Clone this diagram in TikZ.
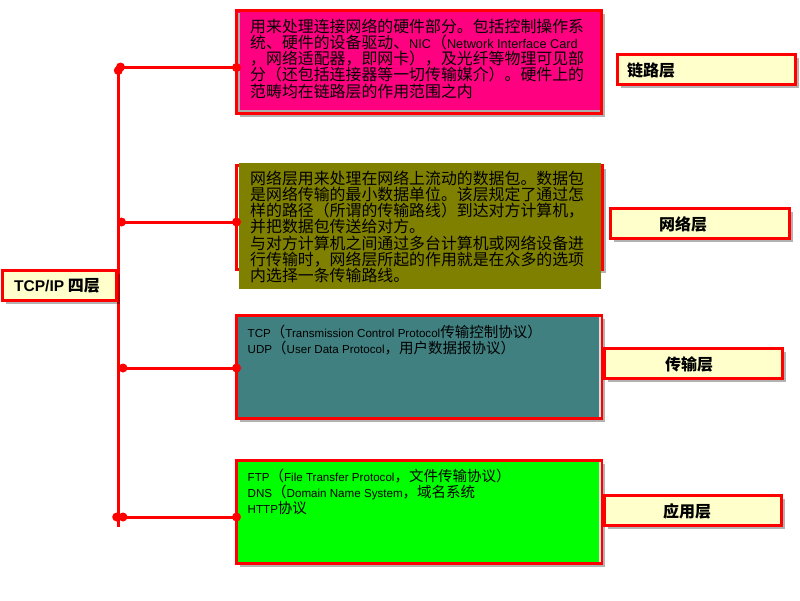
\documentclass[tikz,border=0pt]{standalone}
\usepackage{fontspec}
\setmainfont{Liberation Sans}
\newfontfamily\cjk{Noto Sans CJK SC}
\newfontfamily\latf{Liberation Sans}[Scale=0.8]
\newfontfamily\latb{Liberation Sans}[Scale=0.97]
\newcommand\myen[1]{{\latf #1}}
\newcommand\myenb[1]{{\latb\bfseries #1}}
\usetikzlibrary{shadows}
\definecolor{boxred}{HTML}{FF0000}
\definecolor{linkmag}{HTML}{FF0080}
\definecolor{netolive}{HTML}{808000}
\definecolor{transteal}{HTML}{408080}
\definecolor{appgreen}{HTML}{00FF00}
\definecolor{labelyellow}{HTML}{FFFFCC}
\begin{document}
\begin{tikzpicture}[x=1pt,y=-1pt,
  conn/.style={draw=boxred, line width=3pt},
  connshadow/.style={draw=black, opacity=0.22, line width=3pt},
  layerbox/.style={rectangle, draw=boxred, line width=3pt, inner sep=0pt, outer sep=0pt,
    anchor=north west,
    drop shadow={shadow xshift=3pt, shadow yshift=-3pt, opacity=0.3, fill=black}},
  labelbox/.style={layerbox, fill=labelyellow},
  boxtext/.style={inner sep=0pt, anchor=north west, align=left, text=black,
    font=\cjk\fontsize{15.9}{16.2}\selectfont},
  smalltext/.style={inner sep=0pt, anchor=north west, align=left, text=black,
    font=\cjk\fontsize{14.5}{16}\selectfont},
  labeltext/.style={inner sep=0pt, text=black, font=\cjk\bfseries\fontsize{16}{18}\selectfont},
  dot/.style={circle, fill=boxred, inner sep=0pt, minimum size=9pt},
  bevel/.style={line width=1.5pt}
]
\useasboundingbox (0,0) rectangle (800,600);
\fill[white] (0,0) rectangle (800,600);

% junction coordinates on the trunk
\coordinate (ttop) at (118,66);
\coordinate (tbot) at (118,527);
\coordinate (j1) at (118,67.5);
\coordinate (j2) at (118,222);
\coordinate (j3) at (118,368);
\coordinate (j4) at (118,517);

% layer boxes
\node[layerbox, fill=linkmag, minimum width=365pt, minimum height=103pt] (b1) at (236.5,10.5) {};
\node[layerbox, minimum width=366pt, minimum height=104pt] (b2) at (236.5,165.5) {};
\fill[netolive] (238.5,163) rectangle (601,289);
\node[layerbox, fill=transteal, minimum width=365pt, minimum height=103pt] (b3) at (236.5,315.5) {};
\node[layerbox, fill=appgreen, minimum width=365pt, minimum height=103pt] (b4) at (236.5,460.5) {};

% bevel strips
\draw[bevel, gray!65] (239,12.5) -- (239,111) -- (600,111);
\draw[bevel, gray!25] (600,317) -- (600,417);
\draw[bevel, gray!25] (600,462) -- (600,562);

% connector shadows
\begin{scope}[shift={(2.5,2.5)}]
  \draw[connshadow] (ttop) -- (tbot);
  \draw[connshadow] (j1) -- (j1 -| b1.west);
  \draw[connshadow] (j2) -- (j2 -| b2.west);
  \draw[connshadow] (j3) -- (j3 -| b3.west);
  \draw[connshadow] (j4) -- (j4 -| b4.west);
\end{scope}

% connectors
\draw[conn] (ttop) -- (tbot);
\draw[conn] (j1) -- (j1 -| b1.west);
\draw[conn] (j2) -- (j2 -| b2.west);
\draw[conn] (j3) -- (j3 -| b3.west);
\draw[conn] (j4) -- (j4 -| b4.west);

% box texts
\node[boxtext] (t1) at (250,18.5) {用来处理连接网络的硬件部分。包括控制操作系\\
统、硬件的设备驱动、\myen{NIC}（\myen{Network Interface Card}\\
，网络适配器，即网卡），及光纤等物理可见部\\
分（还包括连接器等一切传输媒介）。硬件上的\\
范畴均在链路层的作用范围之内};

\node[boxtext] (t2) at (250,170.5) {网络层用来处理在网络上流动的数据包。数据包\\
是网络传输的最小数据单位。该层规定了通过怎\\
样的路径（所谓的传输路线）到达对方计算机，\\
并把数据包传送给对方。\\
与对方计算机之间通过多台计算机或网络设备进\\
行传输时，网络层所起的作用就是在众多的选项\\
内选择一条传输路线。};

\node[smalltext] (t3) at (247.5,324.5) {\myen{TCP}（\myen{Transmission Control Protocol}传输控制协议）\\
\myen{UDP}（\myen{User Data Protocol}，用户数据报协议）};

\node[smalltext] (t4) at (247.5,469) {\myen{FTP}（\myen{File Transfer Protocol}，文件传输协议）\\
\myen{DNS}（\myen{Domain Name System}，域名系统\\
\myen{HTTP}协议};

% label boxes
\node[labelbox, minimum width=114pt, minimum height=30pt] (root) at (2.5,270.5) {};
\node[labelbox, minimum width=178pt, minimum height=30pt] (l1) at (617.5,54.5) {};
\node[labelbox, minimum width=179pt, minimum height=30pt] (l2) at (610.5,208.5) {};
\node[labelbox, minimum width=178pt, minimum height=30pt] (l3) at (604.5,348.5) {};
\node[labelbox, minimum width=177pt, minimum height=30pt] (l4) at (604.5,495.5) {};

\node[labeltext] (roottext) at (57,285.5) {\myenb{TCP/IP} 四层};
\node[labeltext, anchor=west] (l1text) at (627,70) {链路层};
\node[labeltext] (l2text) at (683,224) {网络层};
\node[labeltext] (l3text) at (689,364) {传输层};
\node[labeltext] (l4text) at (687,511) {应用层};

% junction dots
\node[dot] (d1a) at (120.5,67) {};
\node[dot] (d1b) at (118.3,70.5) {};
\node[dot] (d1c) at (b1.west |- j1) {};
\node[dot] (d2a) at (121.5,222) {};
\node[dot] (d2c) at (b2.west |- j2) {};
\node[dot] (d3a) at (123,368) {};
\node[dot] (d3c) at (b3.west |- j3) {};
\node[dot] (d4a) at (116.7,517) {};
\node[dot] (d4b) at (123,517) {};
\node[dot] (d4c) at (b4.west |- j4) {};
\end{tikzpicture}
\end{document}
